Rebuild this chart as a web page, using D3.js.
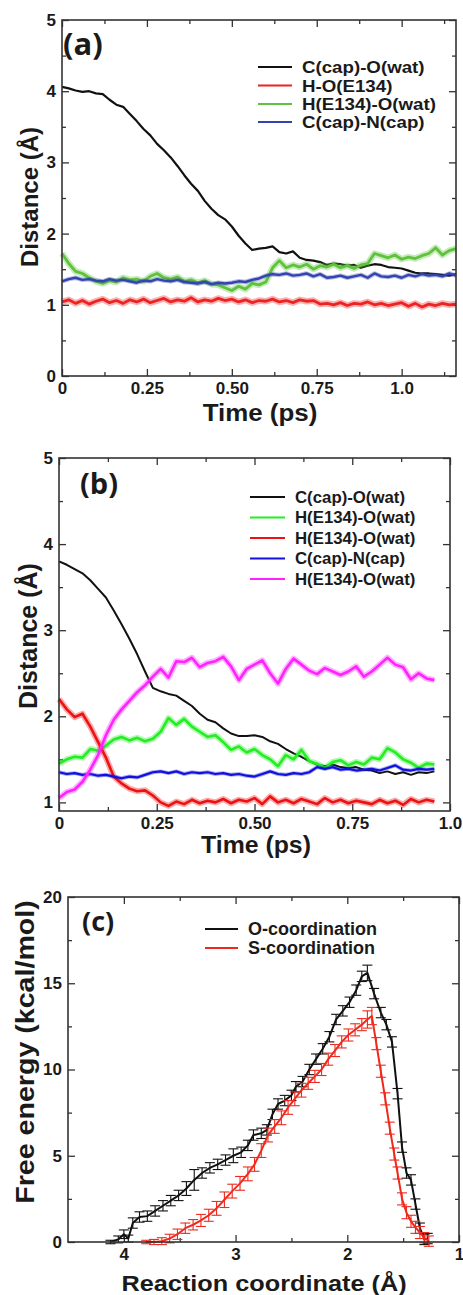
<!DOCTYPE html>
<html><head><meta charset="utf-8">
<script src="https://cdn.jsdelivr.net/npm/d3@7/dist/d3.min.js"></script>
<style>body{margin:0;background:#fff}svg{display:block}</style>
</head><body>
<svg id="chart" width="463" height="1295"></svg>
<script>
// ---------------- Panel (a) data ----------------
const timeA = [0,0.02,0.04,0.06,0.08,0.10,0.12,0.14,0.16,0.18,0.20,0.22,0.24,0.26,0.28,0.30,0.32,0.34,0.36,0.38,0.40,0.42,0.44,0.46,0.48,0.50,0.52,0.54,0.56,0.58,0.60,0.62,0.64,0.66,0.68,0.70,0.72,0.74,0.76,0.78,0.80,0.82,0.84,0.86,0.88,0.90,0.92,0.94,0.96,0.98,1.00,1.02,1.04,1.06,1.08,1.10,1.12,1.14,1.16];
const aCapOwat = [4.06,4.04,4.01,3.99,4.00,3.97,3.96,3.88,3.81,3.78,3.68,3.58,3.47,3.38,3.26,3.17,3.07,2.95,2.82,2.70,2.60,2.46,2.35,2.26,2.20,2.10,1.97,1.86,1.77,1.79,1.80,1.82,1.74,1.72,1.75,1.66,1.63,1.62,1.60,1.56,1.58,1.57,1.55,1.56,1.52,1.55,1.57,1.56,1.53,1.52,1.51,1.48,1.45,1.44,1.44,1.43,1.42,1.41,1.43];
const aHOE134 = [1.04,1.07,1.02,1.06,1.01,1.05,1.08,1.03,1.06,1.02,1.07,1.04,1.08,1.03,1.06,1.09,1.04,1.07,1.05,1.10,1.04,1.07,1.05,1.09,1.06,1.08,1.04,1.07,1.03,1.06,1.05,1.08,1.04,1.06,1.03,1.07,1.05,1.06,1.01,1.02,1.00,1.03,0.99,1.02,1.01,1.04,1.00,1.02,0.99,1.01,1.03,0.98,1.02,0.97,1.01,0.99,1.02,1.00,1.01];
const aHE134Owat = [1.72,1.58,1.47,1.44,1.38,1.33,1.30,1.34,1.32,1.38,1.35,1.36,1.33,1.40,1.44,1.38,1.36,1.39,1.33,1.35,1.31,1.34,1.29,1.28,1.24,1.20,1.26,1.22,1.30,1.28,1.32,1.52,1.62,1.52,1.56,1.53,1.57,1.50,1.55,1.53,1.57,1.52,1.55,1.51,1.56,1.58,1.72,1.69,1.66,1.70,1.64,1.67,1.65,1.69,1.72,1.80,1.70,1.76,1.79];
const aCapNcap = [1.33,1.36,1.38,1.35,1.36,1.34,1.33,1.36,1.34,1.35,1.33,1.31,1.34,1.33,1.36,1.34,1.33,1.35,1.32,1.31,1.30,1.32,1.29,1.31,1.30,1.31,1.33,1.32,1.35,1.37,1.41,1.43,1.42,1.44,1.41,1.42,1.44,1.40,1.43,1.38,1.39,1.41,1.38,1.40,1.42,1.38,1.44,1.40,1.39,1.41,1.38,1.42,1.40,1.43,1.41,1.42,1.40,1.44,1.41];
const aLegend = ["C(cap)-O(wat)","H-O(E134)","H(E134)-O(wat)","C(cap)-N(cap)"];
const aColors = ["#111111","#ee2222","#5fc23c","#3344b0"];
const aXTicks = [0,0.25,0.5,0.75,1.0];
const aXTickLabels = ["0","0.25","0.50","0.75","1.0"];
const aYTicks = [0,1,2,3,4,5];
const aYTickLabels = ["0","1","2","3","4","5"];

// ---------------- Panel (b) data ----------------
const timeB = [0,0.02,0.04,0.06,0.08,0.10,0.12,0.14,0.16,0.18,0.20,0.22,0.24,0.26,0.28,0.30,0.32,0.34,0.36,0.38,0.40,0.42,0.44,0.46,0.48,0.50,0.52,0.54,0.56,0.58,0.60,0.62,0.64,0.66,0.68,0.70,0.72,0.74,0.76,0.78,0.80,0.82,0.84,0.86,0.88,0.90,0.92,0.94,0.96];
const bCapOwat = [3.80,3.76,3.71,3.66,3.58,3.48,3.38,3.23,3.07,2.90,2.72,2.52,2.33,2.29,2.26,2.24,2.18,2.12,2.03,1.96,1.93,1.86,1.80,1.77,1.77,1.78,1.76,1.71,1.68,1.62,1.57,1.53,1.48,1.44,1.42,1.44,1.41,1.40,1.41,1.38,1.37,1.34,1.36,1.33,1.35,1.32,1.35,1.34,1.36];
const bHE134Owat1 = [1.45,1.50,1.53,1.52,1.62,1.60,1.66,1.73,1.76,1.72,1.75,1.71,1.74,1.82,1.98,1.90,1.97,1.88,1.82,1.76,1.78,1.70,1.61,1.65,1.58,1.62,1.55,1.50,1.42,1.55,1.50,1.61,1.48,1.45,1.40,1.47,1.49,1.43,1.47,1.44,1.52,1.50,1.63,1.58,1.50,1.46,1.40,1.45,1.44];
const bHE134Owat2 = [2.20,2.08,1.99,2.03,1.88,1.70,1.52,1.30,1.22,1.16,1.13,1.14,1.08,1.00,0.96,1.01,0.98,1.03,0.99,1.02,1.00,1.04,0.99,1.03,1.01,1.05,0.98,1.07,1.00,1.03,0.99,1.04,1.01,0.98,1.05,1.00,1.03,0.99,1.02,1.00,0.98,1.03,0.99,1.02,0.97,1.04,1.00,1.03,1.01];
const bCapNcap = [1.35,1.33,1.34,1.32,1.33,1.31,1.32,1.30,1.28,1.30,1.29,1.32,1.35,1.36,1.34,1.36,1.33,1.35,1.34,1.35,1.33,1.34,1.32,1.33,1.31,1.30,1.33,1.36,1.33,1.32,1.34,1.33,1.35,1.41,1.39,1.41,1.38,1.39,1.37,1.38,1.39,1.37,1.40,1.43,1.38,1.37,1.39,1.38,1.39];
const bHE134Owat3 = [1.05,1.12,1.15,1.24,1.38,1.55,1.78,1.96,2.08,2.18,2.28,2.36,2.46,2.55,2.45,2.64,2.63,2.68,2.57,2.62,2.64,2.69,2.58,2.42,2.55,2.60,2.65,2.50,2.38,2.55,2.67,2.60,2.53,2.49,2.56,2.52,2.48,2.52,2.58,2.46,2.52,2.60,2.68,2.60,2.57,2.43,2.50,2.44,2.42];
const bLegend = ["C(cap)-O(wat)","H(E134)-O(wat)","H(E134)-O(wat)","C(cap)-N(cap)","H(E134)-O(wat)"];
const bColors = ["#111111","#22ee22","#ee1111","#1111dd","#ff22ff"];
const bXTicks = [0,0.25,0.5,0.75,1.0];
const bXTickLabels = ["0","0.25","0.50","0.75","1.0"];
const bYTicks = [1,2,3,4,5];
const bYTickLabels = ["1","2","3","4","5"];

// ---------------- Panel (c) data ----------------
const cORc = [4.12,4.05,4.00,3.96,3.92,3.86,3.79,3.72,3.65,3.58,3.51,3.44,3.37,3.30,3.23,3.16,3.09,3.02,2.95,2.89,2.84,2.77,2.72,2.67,2.62,2.56,2.50,2.46,2.40,2.34,2.28,2.22,2.16,2.10,2.04,1.98,1.92,1.87,1.82,1.76,1.70,1.65,1.60,1.55,1.51,1.47,1.43,1.39,1.35,1.31,1.28];
const cOEnergy = [0.0,0.15,0.45,0.2,1.1,1.45,1.5,1.8,2.1,2.4,2.7,3.1,3.6,4.0,4.3,4.5,4.75,5.0,5.2,5.6,6.2,6.3,6.5,7.4,8.0,8.2,8.5,9.0,9.3,10.0,10.6,11.2,11.9,12.9,13.4,13.9,14.6,15.4,15.6,14.4,13.3,12.6,11.6,8.6,5.5,4.0,3.6,2.2,0.8,0.15,0.2];
const cOError = [0.1,0.2,0.25,0.2,0.3,0.3,0.3,0.3,0.3,0.3,0.3,0.4,0.6,0.3,0.3,0.3,0.3,0.4,0.3,0.3,0.3,0.3,0.3,0.3,0.3,0.3,0.3,0.3,0.3,0.3,0.3,0.3,0.3,0.3,0.3,0.3,0.3,0.3,0.45,0.3,0.3,0.3,0.3,0.3,0.3,0.3,0.3,0.3,0.3,0.3,0.3];
const cSRc = [3.80,3.73,3.66,3.59,3.52,3.45,3.38,3.31,3.24,3.17,3.10,3.03,2.96,2.89,2.83,2.77,2.71,2.65,2.59,2.53,2.47,2.41,2.35,2.29,2.23,2.17,2.11,2.05,1.99,1.93,1.87,1.82,1.78,1.74,1.70,1.66,1.62,1.58,1.55,1.51,1.47,1.43,1.39,1.35,1.31,1.27];
const cSEnergy = [0.0,0.0,0.05,0.2,0.45,0.8,1.0,1.25,1.55,1.95,2.45,2.95,3.4,3.95,4.5,5.3,6.2,6.7,7.2,7.8,8.3,8.8,9.2,9.6,10.0,10.6,11.1,11.6,12.0,12.3,12.6,12.9,13.1,11.5,9.9,8.3,6.6,5.1,4.0,2.5,1.7,1.2,0.85,0.55,0.25,0.05];
const cSError = [0.1,0.15,0.2,0.25,0.3,0.3,0.3,0.35,0.35,0.4,0.45,0.4,0.4,0.4,0.4,0.4,0.4,0.4,0.4,0.4,0.4,0.4,0.35,0.35,0.35,0.35,0.35,0.35,0.35,0.35,0.35,0.5,0.5,0.35,0.35,0.35,0.35,0.35,0.35,0.35,0.35,0.35,0.35,0.35,0.3,0.3];
const cLegend = ["O-coordination","S-coordination"];
const cColors = ["#111111","#ee2a1e"];
const cXTicks = [4,3,2,1];
const cXTickLabels = ["4","3","2","1"];
const cYTicks = [0,5,10,15,20];
const cYTickLabels = ["0","5","10","15","20"];

// ---------------- drawing ----------------
const FONT = '"Liberation Sans", Arial, Helvetica, sans-serif';
const svg = d3.select("#chart");
const AX = "#333";

function text(g, x, y, s, o) {
  o = o || {};
  return g.append("text")
    .attr("transform", `translate(${x},${y})` + (o.rot ? ` rotate(${o.rot})` : "") + ` scale(${o.sx || 1},1)`)
    .attr("font-family", o.family || FONT)
    .attr("font-weight", "bold")
    .attr("font-size", o.size || 17)
    .attr("fill", o.fill || "#1a1a1a")
    .attr("text-anchor", o.anchor || "start")
    .text(s);
}

function panel(o) {
  const g = svg.append("g");
  const x = d3.scaleLinear().domain(o.xDomain).range(o.xRange);
  const y = d3.scaleLinear().domain(o.yDomain).range(o.yRange);
  const [xl, xr] = o.xRange, [yb, yt] = o.yRange;
  const style = sel => {
    sel.select(".domain").remove();
    sel.selectAll("line").attr("stroke", AX).attr("stroke-width", 1.3);
    sel.selectAll("text").attr("font-family", FONT).attr("font-weight", "bold")
      .attr("font-size", o.tickSize || 17).attr("fill", "#1a1a1a");
  };
  const labX = d => o.xLabels[o.xMajor.indexOf(d)];
  const labY = d => o.yLabels[o.yMajor.indexOf(d)];
  g.append("g").attr("transform", `translate(0,${yb})`)
    .call(d3.axisBottom(x).tickValues(o.xMajor).tickFormat(labX).tickSizeInner(-7).tickSizeOuter(0).tickPadding(6)).call(style);
  g.append("g").attr("transform", `translate(0,${yb})`)
    .call(d3.axisBottom(x).tickValues(o.xMinor).tickFormat("").tickSizeInner(-4).tickSizeOuter(0)).call(style);
  g.append("g").attr("transform", `translate(0,${yt})`)
    .call(d3.axisTop(x).tickValues(o.xMajor).tickFormat("").tickSizeInner(-7).tickSizeOuter(0)).call(style);
  g.append("g").attr("transform", `translate(0,${yt})`)
    .call(d3.axisTop(x).tickValues(o.xMinor).tickFormat("").tickSizeInner(-4).tickSizeOuter(0)).call(style);
  g.append("g").attr("transform", `translate(${xl},0)`)
    .call(d3.axisLeft(y).tickValues(o.yMajor).tickFormat(labY).tickSizeInner(-7).tickSizeOuter(0).tickPadding(6)).call(style);
  g.append("g").attr("transform", `translate(${xl},0)`)
    .call(d3.axisLeft(y).tickValues(o.yMinor).tickFormat("").tickSizeInner(-4).tickSizeOuter(0)).call(style);
  g.append("g").attr("transform", `translate(${xr},0)`)
    .call(d3.axisRight(y).tickValues(o.yMajor).tickFormat("").tickSizeInner(-7).tickSizeOuter(0)).call(style);
  g.append("g").attr("transform", `translate(${xr},0)`)
    .call(d3.axisRight(y).tickValues(o.yMinor).tickFormat("").tickSizeInner(-4).tickSizeOuter(0)).call(style);
  const data = g.append("g");
  g.append("rect").attr("x", xl).attr("y", yt).attr("width", xr - xl).attr("height", yb - yt)
    .attr("fill", "none").attr("stroke", AX).attr("stroke-width", 1.6);
  return { g, data, x, y };
}

// halo = width of a faint band drawn under the line (mimics noisy MD trace)
function series(p, xs, ys, color, w, halo) {
  const line = d3.line().x((d, i) => p.x(xs[i])).y(d => p.y(d));
  if (halo) {
    p.data.append("path").datum(ys).attr("d", line).attr("fill", "none")
      .attr("stroke", color).attr("stroke-width", halo).attr("stroke-linejoin", "round")
      .attr("stroke-opacity", 0.35);
  }
  p.data.append("path").datum(ys).attr("d", line).attr("fill", "none")
    .attr("stroke", color).attr("stroke-width", w).attr("stroke-linejoin", "round");
}

function legend(g, labels, colors, x0, x1, tx, ys, size, sx) {
  labels.forEach((l, i) => {
    g.append("line").attr("x1", x0).attr("x2", x1).attr("y1", ys[i]).attr("y2", ys[i])
      .attr("stroke", colors[i]).attr("stroke-width", 2);
    text(g, tx, ys[i] + size * 0.36, l, { size, sx });
  });
}

// ----- Panel (a)
const pa = panel({
  xDomain: [0, 1.16], xRange: [62, 456], yDomain: [0, 5], yRange: [376, 20],
  xMajor: aXTicks, xMinor: [0.125, 0.375, 0.625, 0.875, 1.125], xLabels: aXTickLabels,
  yMajor: aYTicks, yMinor: [0.5, 1.5, 2.5, 3.5, 4.5], yLabels: aYTickLabels
});
series(pa, timeA, aCapOwat, aColors[0], 2.2);
series(pa, timeA, aHOE134, aColors[1], 2.8, 6.5);
series(pa, timeA, aHE134Owat, aColors[2], 2.8, 6.5);
series(pa, timeA, aCapNcap, aColors[3], 2.4, 4.5);
text(pa.g, 63, 55, "(a)", { size: 31, family: '"Open Sans", sans-serif' });
legend(pa.g, aLegend, aColors, 258, 292, 302, [67, 85.5, 104, 122], 17, 1.1);
text(pa.g, 38, 197, "Distance (Å)", { size: 24, rot: -90, anchor: "middle" });
text(pa.g, 260, 421, "Time (ps)", { size: 24, anchor: "middle", sx: 1.08 });

// ----- Panel (b)
const pb = panel({
  xDomain: [0, 1], xRange: [59, 450], yDomain: [0.9, 5], yRange: [811, 458],
  xMajor: bXTicks, xMinor: [0.125, 0.375, 0.625, 0.875], xLabels: bXTickLabels,
  yMajor: bYTicks, yMinor: [1.5, 2.5, 3.5, 4.5], yLabels: bYTickLabels
});
series(pb, timeB, bCapOwat, bColors[0], 2);
series(pb, timeB, bHE134Owat1, bColors[1], 2.6, 6);
series(pb, timeB, bHE134Owat2, bColors[2], 2.6, 6);
series(pb, timeB, bCapNcap, bColors[3], 2.2, 4);
series(pb, timeB, bHE134Owat3, bColors[4], 2.6, 6);
text(pb.g, 80, 494, "(b)", { size: 29, family: '"Open Sans", sans-serif' });
legend(pb.g, bLegend, bColors, 250, 285, 295, [497, 517.5, 538, 558.5, 579], 16, 1.05);
text(pb.g, 37, 636, "Distance (Å)", { size: 25, rot: -90, anchor: "middle" });
text(pb.g, 256, 853, "Time (ps)", { size: 23, anchor: "middle", sx: 1.08 });

// ----- Panel (c)
const pc = panel({
  xDomain: [4.5, 1], xRange: [68, 459], yDomain: [0, 20], yRange: [1242, 897],
  xMajor: cXTicks, xMinor: [3.5, 2.5, 1.5], xLabels: cXTickLabels,
  yMajor: cYTicks, yMinor: [2.5, 7.5, 12.5, 17.5], yLabels: cYTickLabels
});
function errSeries(p, xs, ys, es, color) {
  const grp = p.data.append("g").attr("stroke", color).attr("stroke-width", 1.1);
  ys.forEach((v, i) => {
    const cx = p.x(xs[i]), lo = p.y(v - es[i]), hi = p.y(v + es[i]);
    grp.append("line").attr("x1", cx).attr("x2", cx).attr("y1", lo).attr("y2", hi);
    grp.append("line").attr("x1", cx - 5).attr("x2", cx + 5).attr("y1", lo).attr("y2", lo);
    grp.append("line").attr("x1", cx - 5).attr("x2", cx + 5).attr("y1", hi).attr("y2", hi);
  });
  series(p, xs, ys, color, 2);
}
errSeries(pc, cORc, cOEnergy, cOError, cColors[0]);
errSeries(pc, cSRc, cSEnergy, cSError, cColors[1]);
text(pc.g, 82, 931, "(c)", { size: 27, family: '"Open Sans", sans-serif' });
legend(pc.g, cLegend, cColors, 205, 238, 248, [929, 948], 18, 1.0);
text(pc.g, 34, 1052, "Free energy (kcal/mol)", { size: 26, rot: -90, anchor: "middle", sx: 1.1 });
text(pc.g, 264, 1291, "Reaction coordinate (Å)", { size: 22, anchor: "middle", sx: 1.15 });
</script>
</body></html>
